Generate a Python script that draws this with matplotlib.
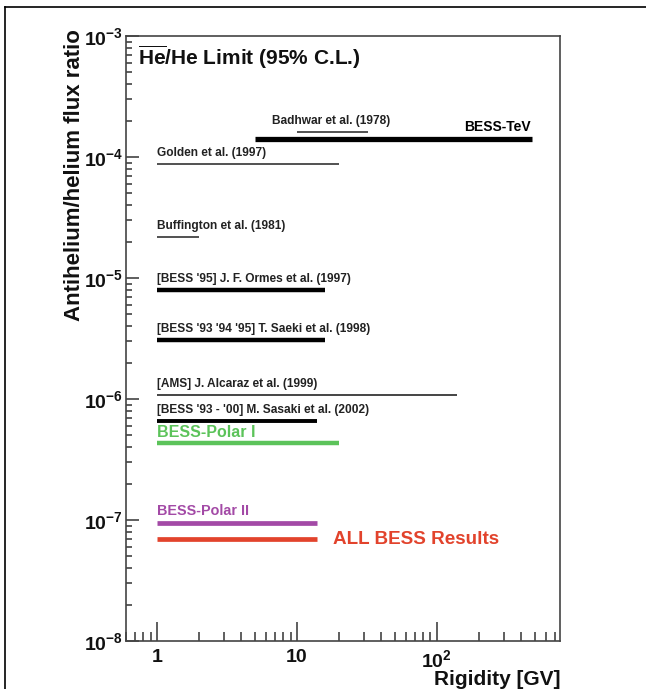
import matplotlib
matplotlib.use("Agg")
import matplotlib.pyplot as plt
from matplotlib.lines import Line2D
from matplotlib.ticker import LogLocator, FixedLocator, FixedFormatter, NullFormatter

plt.rcParams['font.family'] = ['Liberation Sans', 'DejaVu Sans']
plt.rcParams['font.weight'] = 'bold'
plt.rcParams['axes.labelweight'] = 'bold'
plt.rcParams['mathtext.fontset'] = 'custom'
plt.rcParams['mathtext.rm'] = 'Liberation Sans:bold'
plt.rcParams['mathtext.it'] = 'Liberation Sans:bold'
plt.rcParams['mathtext.bf'] = 'Liberation Sans:bold'

# Upper limits on the antihelium/helium flux ratio (95% C.L.)
labels = [
    "Badhwar et al. (1978)",
    "BESS-TeV",
    "Golden et al. (1997)",
    "Buffington et al. (1981)",
    "[BESS '95] J. F. Ormes et al. (1997)",
    "[BESS '93 '94 '95] T. Saeki et al. (1998)",
    "[AMS] J. Alcaraz et al. (1999)",
    "[BESS '93 - '00] M. Sasaki et al. (2002)",
    "BESS-Polar I",
    "BESS-Polar II",
    "ALL BESS Results",
]
rig_low = [10, 5, 1, 1, 1, 1, 1, 1, 1, 1, 1]
rig_high = [32, 480, 20, 2, 16, 16, 140, 14, 20, 14, 14]
limits = [1.6e-4, 1.4e-4, 8.7e-5, 2.17e-5, 8.0e-6, 3.1e-6, 1.08e-6, 6.6e-7, 4.3e-7, 9.4e-8, 6.9e-8]

x_ticks = [1, 10, 100]
x_ticklabels = ["1", "10", r"$10^{2}$"]
y_ticks = [1e-8, 1e-7, 1e-6, 1e-5, 1e-4, 1e-3]
y_ticklabels = [r"$10^{-8}$", r"$10^{-7}$", r"$10^{-6}$", r"$10^{-5}$", r"$10^{-4}$", r"$10^{-3}$"]

# line styles and label placement per limit
widths = [1.2, 3.8, 1.2, 1.2, 3.2, 3.2, 1.4, 2.8, 3.2, 3.4, 3.4]
colors = ["#333333", "#000000", "#333333", "#333333", "#000000", "#000000",
          "#444444", "#000000", "#5cc35a", "#a34aa6", "#e2432c"]
text_sizes = [8.6, 10, 8.6, 8.6, 8.6, 8.6, 8.6, 8.6, 11.5, 10.4, 13.6]

fig = plt.figure(figsize=(6.46, 6.89), dpi=100)
ax = fig.add_axes([0.195, 0.0697, 0.672, 0.878])
ax.set_xscale("log")
ax.set_yscale("log")
ax.set_xlim(0.6, 760)
ax.set_ylim(1e-8, 1e-3)

for i, lab in enumerate(labels):
    ax.plot([rig_low[i], rig_high[i]], [limits[i], limits[i]], color=colors[i],
            lw=widths[i], solid_capstyle="butt")
    if lab == "BESS-TeV":
        ax.annotate(lab, xy=(rig_high[i], limits[i]), xytext=(-1, 3.5),
                    textcoords="offset points", ha="right", va="bottom",
                    fontsize=text_sizes[i], color=colors[i])
    elif lab == "ALL BESS Results":
        ax.annotate(lab, xy=(rig_high[i], limits[i]), xytext=(11, 0),
                    textcoords="offset points", ha="left", va="center",
                    fontsize=text_sizes[i], color=colors[i])
    elif lab.startswith("Badhwar"):
        ax.annotate(lab, xy=(rig_low[i], limits[i]), xytext=(-18, 3.5),
                    textcoords="offset points", ha="left", va="bottom",
                    fontsize=text_sizes[i], color="#222222")
    elif lab == "BESS-Polar I":
        ax.annotate(lab, xy=(rig_low[i], limits[i]), xytext=(0, 2.5),
                    textcoords="offset points", ha="left", va="bottom",
                    fontsize=text_sizes[i], color=colors[i])
    else:
        c = colors[i] if lab.startswith("BESS-Polar") else "#222222"
        ax.annotate(lab, xy=(rig_low[i], limits[i]), xytext=(0, 3.5),
                    textcoords="offset points", ha="left", va="bottom",
                    fontsize=text_sizes[i], color=c)

ax.text(0.027, 0.987, r"$\overline{\mathrm{He}}$/He Limit (95% C.L.)",
        transform=ax.transAxes, ha="left", va="top", fontsize=15, color="#111111")

ax.xaxis.set_major_locator(FixedLocator(x_ticks))
ax.xaxis.set_major_formatter(FixedFormatter(x_ticklabels))
ax.xaxis.set_minor_locator(LogLocator(base=10, subs=range(2, 10), numticks=20))
ax.xaxis.set_minor_formatter(NullFormatter())
ax.yaxis.set_major_locator(FixedLocator(y_ticks))
ax.yaxis.set_major_formatter(FixedFormatter(y_ticklabels))
ax.yaxis.set_minor_locator(LogLocator(base=10, subs=range(2, 10), numticks=20))
ax.yaxis.set_minor_formatter(NullFormatter())

ax.tick_params(axis="both", which="both", direction="in", top=False, right=False,
               color="#333333", width=1.1, labelsize=14, labelcolor="#111111")
ax.tick_params(axis="x", which="major", length=14, pad=6)
ax.tick_params(axis="x", which="minor", length=6.5)
ax.tick_params(axis="y", which="major", length=9, pad=2)
ax.tick_params(axis="y", which="minor", length=4.5)
for s in ax.spines.values():
    s.set_color("#444444")
    s.set_linewidth(1.2)

ax.set_ylabel("Antihelium/helium flux ratio", fontsize=16, color="#111111")
ax.yaxis.set_label_coords(-0.118, 0.77)
ax.set_xlabel("Rigidity [GV]", fontsize=15, color="#111111")
ax.xaxis.set_label_coords(1.0, -0.064)
ax.xaxis.label.set_horizontalalignment("right")
ax.xaxis.label.set_verticalalignment("center")
ax.yaxis.label.set_verticalalignment("center")

# outer frame
fig.add_artist(Line2D([0.008, 1.0], [0.99, 0.99], transform=fig.transFigure, color="black", lw=1.2))
fig.add_artist(Line2D([0.008, 0.008], [0.0, 0.99], transform=fig.transFigure, color="black", lw=1.2))

fig.savefig("out.png", dpi=100)
